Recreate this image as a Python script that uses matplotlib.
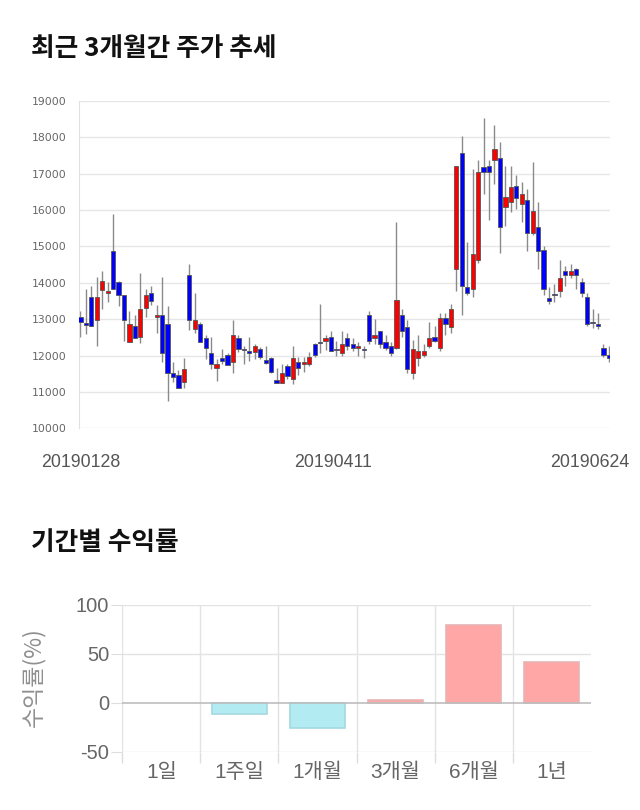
import matplotlib
matplotlib.use("Agg")
import matplotlib.pyplot as plt
from matplotlib.patches import Rectangle

plt.rcParams['font.family'] = ['Liberation Sans', 'Noto Sans CJK KR', 'DejaVu Sans']

# ---------------- data ----------------
opens = [13070, 12880, 13620, 12970, 13810, 13710, 14860, 14010, 13670, 12360,
         12820, 12520, 13310, 13720, 13070, 13110, 12860, 11510, 11460, 11260,
         14200, 12720, 12860, 12470, 12060, 11670, 11920, 12010, 11810, 12470,
         12170, 12120, 12100, 12170, 11880, 11920, 11330, 11250, 11710, 11360,
         11810, 11770, 11770, 12310, 12370, 12410, 12520, 12180, 12060, 12470,
         12310, 12210, 12180, 13110, 12470, 12670, 12360, 12260, 12210, 13110,
         12770, 11510, 11920, 12010, 12270, 12520, 12210, 13020, 12770, 14370,
         17570, 13870, 13820, 14620, 17170, 17210, 17370, 17420, 16070, 16230,
         16670, 16170, 16270, 15370, 15520, 14910, 13570, 13680, 13760, 14310,
         14220, 14370, 14020, 13610, 12920, 12860, 12210, 12010]
highs = [13230, 13830, 13910, 14160, 14320, 14030, 15880, 14060, 13670, 13210,
         13100, 14270, 13820, 13910, 13400, 14160, 13360, 11810, 11600, 11920,
         14510, 13720, 12910, 12560, 12520, 11910, 12170, 12060, 12970, 12560,
         12260, 12520, 12310, 12240, 12260, 11970, 11670, 11770, 11770, 12260,
         11970, 11970, 12100, 12330, 13410, 12560, 12680, 12410, 12670, 12610,
         12470, 12380, 12260, 13230, 13010, 12670, 12560, 12360, 15660, 13280,
         12970, 12430, 12560, 12310, 12910, 12810, 13160, 13160, 13410, 17210,
         18030, 15120, 17120, 17370, 18520, 17370, 18330, 17860, 17210, 17210,
         16970, 16760, 16570, 17320, 16220, 15020, 13870, 13960, 14610, 14470,
         14510, 14410, 14120, 13720, 13270, 13160, 12310, 12260]
lows = [12520, 12580, 12800, 12270, 13270, 13460, 13820, 13360, 12400, 12360,
        12470, 12330, 13070, 13400, 12610, 11810, 10760, 11260, 11120, 11120,
        12710, 12610, 12360, 11910, 11620, 11310, 11770, 11740, 11510, 12100,
        11770, 11860, 11910, 11910, 11770, 11510, 11250, 11250, 11360, 11220,
        11460, 11560, 11710, 11970, 12060, 12150, 12110, 11990, 11990, 12150,
        12110, 11990, 11920, 12310, 12310, 12210, 12150, 11990, 12170, 12520,
        11510, 11360, 11710, 11970, 12210, 12360, 12110, 12560, 12610, 13760,
        13110, 13660, 13610, 14530, 16430, 15720, 16720, 14820, 15570, 15930,
        16020, 15660, 14860, 15320, 14370, 13660, 13420, 13460, 13610, 13910,
        14120, 13820, 13610, 12810, 12760, 12720, 11970, 11810]
closes = [12910, 12850, 12820, 13610, 14060, 13770, 13820, 13670, 12970, 12860,
          12470, 13270, 13660, 13510, 13110, 12060, 11510, 11420, 11120, 11620,
          12970, 12970, 12360, 12210, 11770, 11770, 11860, 11740, 12560, 12170,
          12150, 12060, 12260, 11970, 11800, 11560, 11250, 11510, 11450, 11920,
          11660, 11810, 11970, 12010, 12350, 12470, 12110, 12160, 12310, 12270,
          12210, 12270, 12160, 12410, 12560, 12310, 12210, 12060, 13520, 12670,
          11620, 12170, 12120, 12120, 12470, 12410, 13020, 12860, 13270, 17210,
          13920, 13710, 14780, 17030, 17030, 17030, 17660, 15520, 16360, 16620,
          16320, 16430, 15370, 15970, 14860, 13820, 13510, 13660, 14120, 14220,
          14310, 14220, 13720, 12860, 12900, 12810, 12010, 11920]

date_labels = ['20190128', '20190411', '20190624']
date_label_pos = [0, 46.4, 93.5]
price_ticks = [10000, 11000, 12000, 13000, 14000, 15000, 16000, 17000, 18000, 19000]

periods = ['1일', '1주일', '1개월', '3개월', '6개월', '1년']
returns = [0.0, -11.6, -25.9, 2.7, 79.5, 42.0]

# ---------------- figure ----------------
W, H = 640, 810
fig = plt.figure(figsize=(W / 100, H / 100), dpi=100)
fig.patch.set_facecolor('white')

def ax_rect(l, t, r, b):
    return [l / W, 1 - b / H, (r - l) / W, (b - t) / H]

fig.text(31 / W, 1 - 48 / H, '최근 3개월간 주가 추세', fontsize=18.5, fontweight='bold',
         family=['Noto Sans CJK KR'], va='center', ha='left', color='#111111')
fig.text(31 / W, 1 - 543 / H, '기간별 수익률', fontsize=18.5, fontweight='bold',
         family=['Noto Sans CJK KR'], va='center', ha='left', color='#111111')

# ---------------- candlestick ----------------
ax = fig.add_axes(ax_rect(79.3, 100.7, 610, 428.3))
ax.set_xlim(-0.2, 97.2)
ax.set_ylim(10000, 19000)
ax.set_yticks(price_ticks)
ax.set_yticklabels([str(v) for v in price_ticks], fontsize=7.8, color='#666666',
                   family=['DejaVu Sans'])
ax.grid(axis='y', color='#e6e6e6', linewidth=1.0)
ax.set_axisbelow(True)
for s in ['top', 'right', 'bottom']:
    ax.spines[s].set_visible(False)
ax.spines['left'].set_color('#e0e0e0')
ax.tick_params(axis='y', length=0, pad=9)
ax.set_xticks(date_label_pos)
ax.set_xticklabels(date_labels, fontsize=12.8, color='#555555')
ax.tick_params(axis='x', length=0, pad=18.5)

bw = 0.78
for i, (o, h, l, c) in enumerate(zip(opens, highs, lows, closes)):
    up = c >= o
    col = '#ff0000' if up else '#0000ff'
    ax.vlines(i, l, h, color='#8a8a8a', linewidth=1.0, zorder=2)
    lo, hi = min(o, c), max(o, c)
    hgt = max(hi - lo, 25)
    ax.add_patch(Rectangle((i - bw / 2, lo), bw, hgt, facecolor=col,
                           edgecolor='#555555', linewidth=0.6, zorder=3))

# ---------------- returns bar ----------------
ax2 = fig.add_axes(ax_rect(122.3, 605, 590.7, 751.7))
ax2.set_xlim(-0.5, 5.5)
ax2.set_ylim(-50, 100)
xs = list(range(len(periods)))
fcs = ['#ffa6a6' if v >= 0 else '#b2ebf2' for v in returns]
ecs = ['#e8b4b4' if v >= 0 else '#a5d8e0' for v in returns]
lws = [0 if v == 0 else 1.2 for v in returns]
ax2.bar(xs, returns, width=0.70, color=fcs, edgecolor=ecs, linewidth=lws, zorder=3)

ax2.set_yticks([-50, 0, 50, 100])
ax2.set_yticklabels(['-50', '0', '50', '100'], fontsize=14.5, color='#666666')
ax2.tick_params(axis='y', length=8, color='#dddddd', pad=1.5)
for yv in [-50, 50, 100]:
    ax2.axhline(yv, color='#e3e3e3', linewidth=1.0, zorder=1)
ax2.axhline(0, color='#bdbdbd', linewidth=1.2, zorder=4)

ax2.set_xticks(xs)
ax2.set_xticklabels(periods, fontsize=15, color='#666666')
ax2.tick_params(axis='x', which='major', length=0, pad=8)
bounds = [-0.5 + k for k in range(6)]
ax2.set_xticks(bounds, minor=True)
ax2.tick_params(axis='x', which='minor', length=8, color='#dddddd', width=1.0)
for b in bounds:
    ax2.axvline(b, color='#e3e3e3', linewidth=1.0, zorder=1)
for s in ['top', 'right', 'bottom', 'left']:
    ax2.spines[s].set_visible(False)

ax2.set_ylabel('수익률(%)', fontsize=16.5, color='#8f8f8f', family=['Noto Sans CJK KR'])
ax2.yaxis.set_label_coords(-0.165, 0.51)

fig.savefig('out.png', dpi=100, facecolor='white')
